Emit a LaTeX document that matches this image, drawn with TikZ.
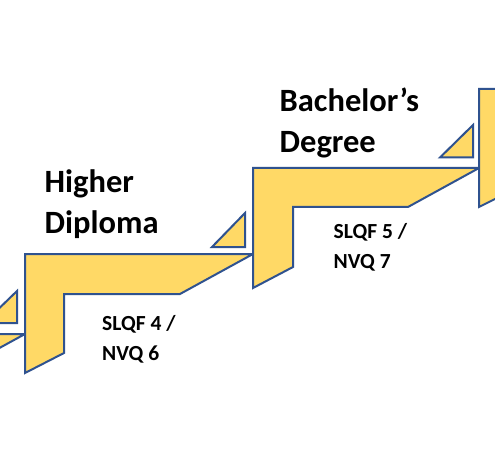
\documentclass[tikz,border=0pt]{standalone}
\usepackage{fontspec}
\setmainfont{Carlito}
\definecolor{stepfill}{RGB}{255,217,102}
\definecolor{stepline}{RGB}{47,82,143}
\tikzset{
  stair/.style={fill=stepfill, draw=stepline, line width=2pt, line join=miter},
  bigtxt/.style={anchor=base west, align=left, inner sep=0pt, font=\fontsize{32.5}{41}\selectfont\bfseries},
  smalltxt/.style={anchor=base west, align=left, inner sep=0pt, font=\fontsize{21.5}{29.5}\selectfont\bfseries}
}
\begin{document}
\begin{tikzpicture}[x=1pt,y=-1pt]
\useasboundingbox (0,0) rectangle (495,465);
\fill[white] (0,0) rectangle (495,465);
\begin{scope}
\clip (0,0) rectangle (495,465);
% step 0 (partial, left)
\draw[stair] (-203,334) -- (25,334) -- (-48,374) -- (-164,374) -- (-164,434) -- (-203,454) -- cycle;
\draw[stair] (-16,323) -- (17,323) -- (17,291) -- cycle;
% step 1
\draw[stair] (25,254) -- (253,254) -- (180,294) -- (64,294) -- (64,353) -- (25,373) -- cycle;
\draw[stair] (212,247) -- (245,247) -- (245,213) -- cycle;
% step 2
\draw[stair] (253,168) -- (479,168) -- (408,207) -- (293,207) -- (293,267) -- (253,288) -- cycle;
\draw[stair] (440,157.5) -- (473,157.5) -- (473,125) -- cycle;
% step 3 (partial, right)
\draw[stair] (479,89) -- (705,89) -- (634,128) -- (519,128) -- (519,187) -- (479,207) -- cycle;
\end{scope}
\node[bigtxt] (hd) at (44.5,233.3) {Higher\\Diploma};
\node[bigtxt] (bd) at (279.5,152.7) {Bachelor’s\\Degree};
\node[smalltxt] (s4) at (102,360) {SLQF 4 /\\NVQ 6};
\node[smalltxt] (s5) at (333.5,268.3) {SLQF 5 /\\NVQ 7};
\end{tikzpicture}
\end{document}
